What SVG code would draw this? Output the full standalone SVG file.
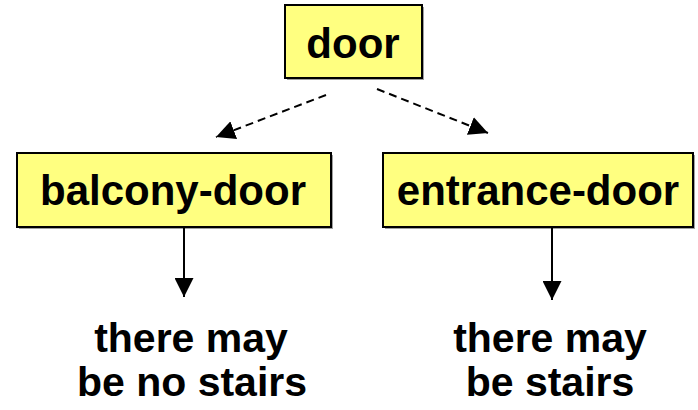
<svg xmlns="http://www.w3.org/2000/svg" width="698" height="410" viewBox="0 0 698 410">
  <style>
    .box { fill: #ffff80; stroke: #000; stroke-width: 2; }
    .shadow { fill: #a0a0a0; }
    .label { font-family: "Liberation Sans", Arial, sans-serif; font-weight: bold; font-size: 42px; fill: #000; text-anchor: middle; }
    .note { font-family: "Liberation Sans", Arial, sans-serif; font-weight: bold; font-size: 41px; fill: #000; text-anchor: middle; }
    .solid { stroke: #000; stroke-width: 2; fill: none; }
    .dashed { stroke: #000; stroke-width: 2; fill: none; stroke-dasharray: 8 5; }
  </style>
  <defs>
    <marker id="headBig" viewBox="0 0 10 10" refX="10" refY="5" markerWidth="19" markerHeight="19" markerUnits="userSpaceOnUse" orient="auto">
      <path d="M0,0 L10,5 L0,10 Z" fill="#000"/>
    </marker>
  </defs>

  <g id="door">
    <rect class="shadow" x="287" y="7" width="137" height="73"/>
    <rect class="box" x="285" y="5" width="137" height="73"/>
    <text class="label" x="353" y="58">door</text>
  </g>

  <g id="balcony-door">
    <rect class="shadow" x="19" y="155" width="314" height="74"/>
    <rect class="box" x="17" y="153" width="314" height="74"/>
    <text class="label" x="173" y="205">balcony-door</text>
  </g>

  <g id="entrance-door">
    <rect class="shadow" x="385" y="155" width="310" height="74"/>
    <rect class="box" x="383" y="153" width="310" height="74"/>
    <text class="label" x="538" y="205">entrance-door</text>
  </g>

  <g id="note-balcony">
    <text class="note" x="191" y="352">there may</text>
    <text class="note" x="192" y="396">be no stairs</text>
  </g>

  <g id="note-entrance">
    <text class="note" x="550" y="352">there may</text>
    <text class="note" x="550" y="396">be stairs</text>
  </g>

  <g id="connectors">
    <line class="dashed" x1="326" y1="95" x2="216" y2="137" marker-end="url(#headBig)"/>
    <line class="dashed" x1="377" y1="89" x2="488" y2="133" marker-end="url(#headBig)"/>
    <line class="solid" x1="184" y1="227" x2="184" y2="297" marker-end="url(#headBig)"/>
    <line class="solid" x1="552" y1="227" x2="552" y2="300" marker-end="url(#headBig)"/>
  </g>
</svg>
